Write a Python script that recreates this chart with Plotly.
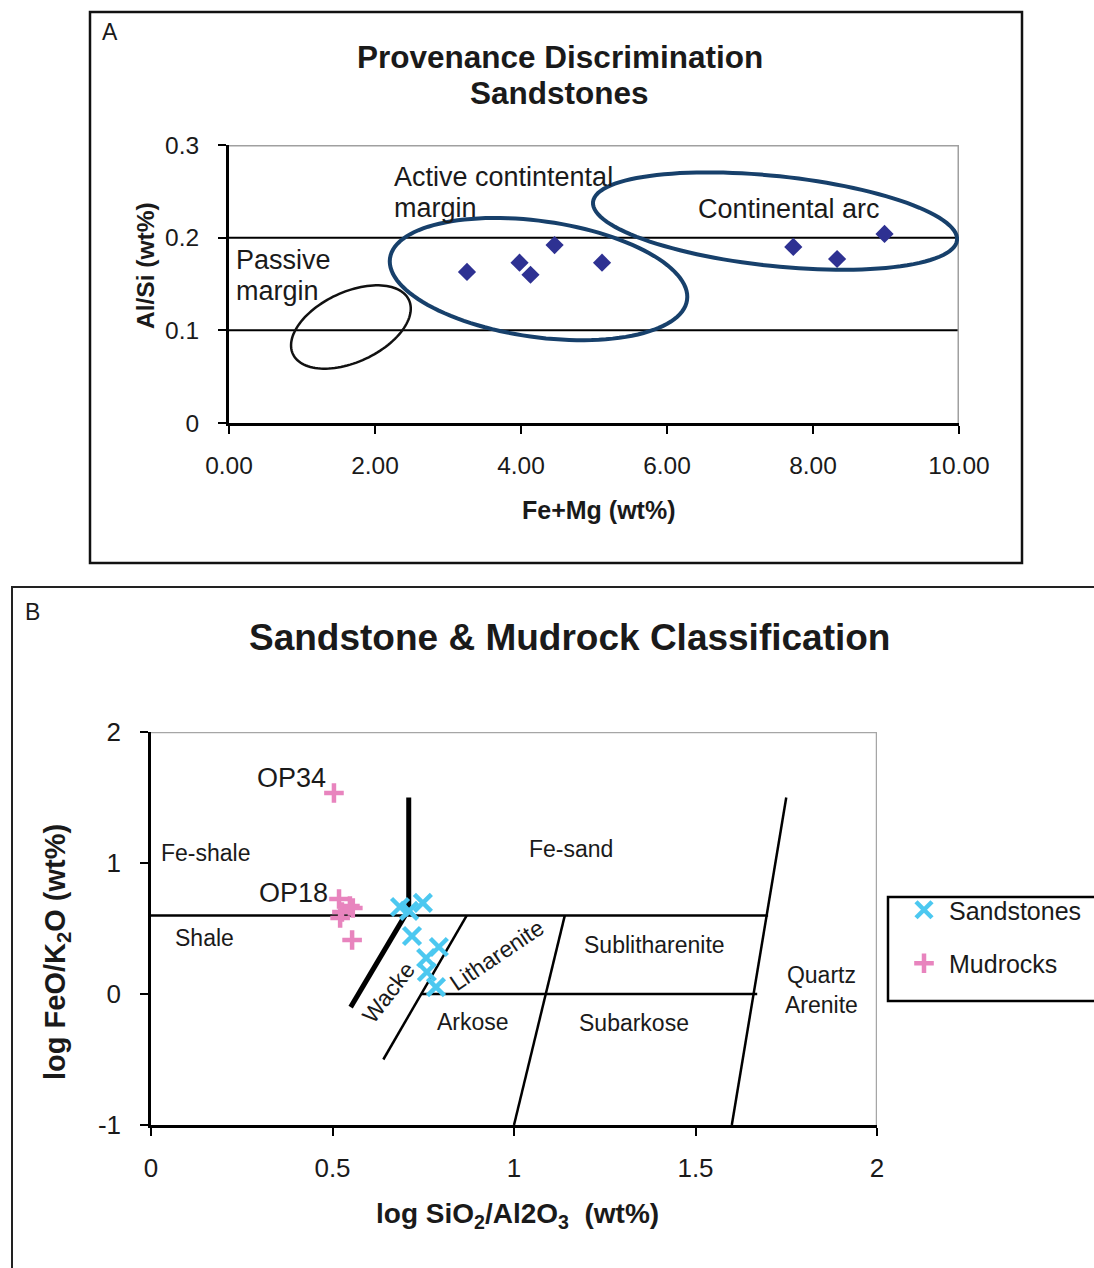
import math
import plotly.graph_objects as go

W, H = 1094, 1268

# ---------------- Panel A data ----------------
fe_mg = [3.26, 3.98, 4.13, 4.46, 5.11, 7.73, 8.33, 8.98]
al_si = [0.163, 0.173, 0.160, 0.192, 0.173, 0.190, 0.177, 0.204]
a_xticks = [0, 2, 4, 6, 8, 10]
a_xticklabels = ["0.00", "2.00", "4.00", "6.00", "8.00", "10.00"]
a_yticks = [0, 0.1, 0.2, 0.3]
a_yticklabels = ["0", "0.1", "0.2", "0.3"]
a_gridlines = [0.1, 0.2]

# provenance fields (ellipse centres in data units)
field_names = ["Passive margin", "Active continental margin", "Continental arc"]
field_cx = [1.67, 4.24, 7.48]
field_cy = [0.1036, 0.1553, 0.2179]

# ---------------- Panel B data ----------------
sand_x = [0.686, 0.711, 0.749, 0.719, 0.793, 0.758, 0.760, 0.785]
sand_y = [0.664, 0.634, 0.695, 0.443, 0.359, 0.275, 0.168, 0.053]
mud_x = [0.504, 0.518, 0.548, 0.526, 0.556, 0.521, 0.554]
mud_y = [1.534, 0.725, 0.672, 0.626, 0.656, 0.580, 0.412]
b_xticks = [0, 0.5, 1, 1.5, 2]
b_xticklabels = ["0", "0.5", "1", "1.5", "2"]
b_yticks = [-1, 0, 1, 2]
b_yticklabels = ["-1", "0", "1", "2"]

# classification boundaries (x0, y0, x1, y1)
thin_bounds = [
    (0.0, 0.6, 1.70, 0.6),
    (0.64, -0.5, 0.87, 0.6),
    (0.745, 0.0, 1.67, 0.0),
    (1.0, -1.0, 1.14, 0.6),
    (1.6, -1.0, 1.75, 1.5),
]
thick_bounds = [
    (0.71, 0.6, 0.71, 1.5),
    (0.55, -0.1, 0.70, 0.6),
]

# field labels in panel B
b_labels = ["Fe-shale", "Fe-sand", "Shale", "Sublitharenite", "Arkose", "Subarkose", "Quartz<br>Arenite"]
b_label_x = [0.149, 1.157, 0.146, 1.388, 0.887, 1.331, 1.846]
b_label_y = [1.076, 1.107, 0.427, 0.374, -0.214, -0.221, 0.031]

# ---------------- layout geometry ----------------
A_px = dict(x0=229, x1=959, y0=145, y1=423)
B_px = dict(x0=151, x1=877, y0=732, y1=1125)


def dom(p):
    return [p["x0"] / W, p["x1"] / W], [1 - p["y1"] / H, 1 - p["y0"] / H]


def P(x, y):
    return x / W, 1 - y / H


A_dx, A_dy = dom(A_px)
B_dx, B_dy = dom(B_px)

sans = "Liberation Sans, Arial, sans-serif"
narrow = "Liberation Sans Narrow, Arial Narrow, Liberation Sans, sans-serif"
txt = "#1a1a1a"

fig = go.Figure()

# Panel A points
fig.add_trace(go.Scatter(
    x=fe_mg, y=al_si, mode="markers", xaxis="x", yaxis="y",
    marker=dict(symbol="diamond", size=14, color="#2E3192"),
    showlegend=False, hoverinfo="x+y"))

# Panel B boundaries
def seg_xy(segs):
    xs, ys = [], []
    for x0, y0, x1, y1 in segs:
        xs += [x0, x1, None]
        ys += [y0, y1, None]
    return xs, ys

tx, ty = seg_xy(thin_bounds)
fig.add_trace(go.Scatter(x=tx, y=ty, mode="lines", xaxis="x2", yaxis="y2",
                         line=dict(color="black", width=2.5), showlegend=False, hoverinfo="skip"))
kx, ky = seg_xy(thick_bounds)
fig.add_trace(go.Scatter(x=kx, y=ky, mode="lines", xaxis="x2", yaxis="y2",
                         line=dict(color="black", width=5), showlegend=False, hoverinfo="skip"))

fig.add_trace(go.Scatter(
    x=sand_x, y=sand_y, mode="markers", xaxis="x2", yaxis="y2", name="Sandstones",
    legendgroup="s",
    marker=dict(symbol="x-thin", size=17, color="#4CC8F0", line=dict(color="#4CC8F0", width=4.5))))
fig.add_trace(go.Scatter(
    x=mud_x, y=mud_y, mode="markers", xaxis="x2", yaxis="y2", name="Mudrocks",
    legendgroup="m",
    marker=dict(symbol="cross-thin", size=14, color="#E884BE", line=dict(color="#E884BE", width=4.5))))

shapes = []
# panel frames
fx0, fy0 = P(90, 12)
fx1, fy1 = P(1022, 563)
shapes.append(dict(type="rect", xref="paper", yref="paper", x0=fx0, y0=fy1, x1=fx1, y1=fy0,
                   line=dict(color="#111", width=2.5)))
gx0, gy0 = P(12, 587)
gx1, gy1 = P(1110, 1290)
shapes.append(dict(type="rect", xref="paper", yref="paper", x0=gx0, y0=gy1, x1=gx1, y1=gy0,
                   line=dict(color="#222", width=2)))
# legend box
lx0, ly0 = P(888, 897)
lx1, ly1 = P(1110, 1001)
shapes.append(dict(type="rect", xref="paper", yref="paper", x0=lx0, y0=ly1, x1=lx1, y1=ly0,
                   line=dict(color="black", width=2.5)))

# panel A gridlines and grey border
for g in a_gridlines:
    shapes.append(dict(type="line", xref="x", yref="y", x0=0, x1=10, y0=g, y1=g,
                       line=dict(color="black", width=2), layer="below"))
shapes.append(dict(type="line", xref="x", yref="y", x0=0, x1=10, y0=0.3, y1=0.3,
                   line=dict(color="#A0A0A0", width=3)))
shapes.append(dict(type="line", xref="x", yref="y", x0=10, x1=10, y0=0, y1=0.3,
                   line=dict(color="#A0A0A0", width=3)))

# panel B grey border
shapes.append(dict(type="line", xref="x2", yref="y2", x0=0, x1=2, y0=2, y1=2,
                   line=dict(color="#A6A6A6", width=2.5)))
shapes.append(dict(type="line", xref="x2", yref="y2", x0=2, x1=2, y0=-1, y1=2,
                   line=dict(color="#A6A6A6", width=2.5)))

# ellipses (pixel-space shape, converted to data units)
sx = (A_px["x1"] - A_px["x0"]) / 10.0
sy = (A_px["y1"] - A_px["y0"]) / 0.3
ell_a = [64, 150, 183]
ell_b = [35, 58, 45]
ell_ang = [25, -8, -6]
ell_col = ["#111111", "#17406B", "#17406B"]
ell_w = [2.5, 4, 4]
for cx, cy, a, b, ang, col, lw in zip(field_cx, field_cy, ell_a, ell_b, ell_ang, ell_col, ell_w):
    th = math.radians(ang)
    pts = []
    for i in range(121):
        t = 2 * math.pi * i / 120
        ex, ey = a * math.cos(t), b * math.sin(t)
        rx = ex * math.cos(th) - ey * math.sin(th)
        ry = ex * math.sin(th) + ey * math.cos(th)
        pts.append((cx + rx / sx, cy + ry / sy))
    path = "M " + " L ".join(f"{x:.4f},{y:.5f}" for x, y in pts) + " Z"
    shapes.append(dict(type="path", xref="x", yref="y", path=path,
                       line=dict(color=col, width=lw)))

ann = []
def pa(text, x, y, size, bold=False, xanchor="center", family=sans, angle=0, color=txt):
    px, py = P(x, y)
    ann.append(dict(text=f"<b>{text}</b>" if bold else text, x=px, y=py, xref="paper", yref="paper",
                    xanchor=xanchor, yanchor="middle", showarrow=False, textangle=angle,
                    font=dict(family=family, size=size, color=color)))

def da(text, x, y, size, xr, yr, xanchor="left", family=sans, angle=0, align="center"):
    ann.append(dict(text=text, x=x, y=y, xref=xr, yref=yr, xanchor=xanchor, yanchor="middle",
                    showarrow=False, textangle=angle, align=align,
                    font=dict(family=family, size=size, color=txt)))

# Panel A texts
pa("A", 110, 32, 23)
pa("Provenance Discrimination", 560, 57, 31.5, bold=True)
pa("Sandstones", 559, 93, 31.5, bold=True)
pa("Al/Si (wt%)", 145, 266, 24.5, bold=True, angle=-90)
pa("Fe+Mg (wt%)", 598, 510, 25, bold=True)
da("Active contintental", 2.23, 0.2654, 27, "x", "y")
da("margin", 2.23, 0.232, 27, "x", "y")
da("Passive", 0.07, 0.176, 27, "x", "y")
da("margin", 0.07, 0.142, 27, "x", "y")
da("Continental arc", 6.40, 0.231, 27, "x", "y")

# Panel B texts
pa("B", 32, 612, 23)
pa("Sandstone &amp; Mudrock Classification", 569, 637, 37, bold=True)
pa("log FeO/K<sub>2</sub>O (wt%)", 57, 952, 29, bold=True, angle=-90)
pa("log SiO<sub>2</sub>/Al2O<sub>3</sub>  (wt%)", 517, 1215, 28, bold=True)
da("OP34", 0.487, 1.649, 27, "x2", "y2", xanchor="right")
da("OP18", 0.492, 0.771, 27, "x2", "y2", xanchor="right")
for t, x, y in zip(b_labels, b_label_x, b_label_y):
    da(t, x, y, 23, "x2", "y2", xanchor="center", family=narrow)
da("Wacke", 0.653, 0.008, 23, "x2", "y2", xanchor="center", family=narrow, angle=-52)
da("Litharenite", 0.953, 0.298, 23, "x2", "y2", xanchor="center", family=narrow, angle=-34)

axis_common = dict(showgrid=False, zeroline=False, showline=True, linecolor="black",
                   ticks="outside", tickcolor="black", tickwidth=2, ticklen=8,
                   fixedrange=True, automargin=False)

fig.update_layout(
    template="none",
    width=W, height=H, margin=dict(l=0, r=0, t=0, b=0, pad=0, autoexpand=False),
    paper_bgcolor="white", plot_bgcolor="white",
    xaxis=dict(domain=A_dx, range=[0, 10], tickvals=a_xticks, ticktext=a_xticklabels,
               linewidth=2.5, ticklabelstandoff=11, anchor="y",
               tickfont=dict(family=sans, size=24.5, color=txt), **axis_common),
    yaxis=dict(domain=A_dy, range=[0, 0.3], tickvals=a_yticks, ticktext=a_yticklabels,
               linewidth=3, ticklabelstandoff=14, anchor="x",
               tickfont=dict(family=sans, size=24.5, color=txt), **axis_common),
    xaxis2=dict(domain=B_dx, range=[0, 2], tickvals=b_xticks, ticktext=b_xticklabels,
                linewidth=2.5, ticklabelstandoff=10, anchor="y2",
                tickfont=dict(family=sans, size=26, color=txt), **axis_common),
    yaxis2=dict(domain=B_dy, range=[-1, 2], tickvals=b_yticks, ticktext=b_yticklabels,
                linewidth=2.5, ticklabelstandoff=14, anchor="x2",
                tickfont=dict(family=sans, size=26, color=txt), **axis_common),
    shapes=shapes,
    annotations=ann,
    legend=dict(x=899 / W, y=1 - 887 / H, xanchor="left", yanchor="top",
                borderwidth=0, bgcolor="rgba(0,0,0,0)", itemwidth=40,
                font=dict(family=sans, size=25, color=txt), tracegroupgap=18,
                traceorder="grouped"),
    showlegend=True,
)

fig.write_html("out.html")
